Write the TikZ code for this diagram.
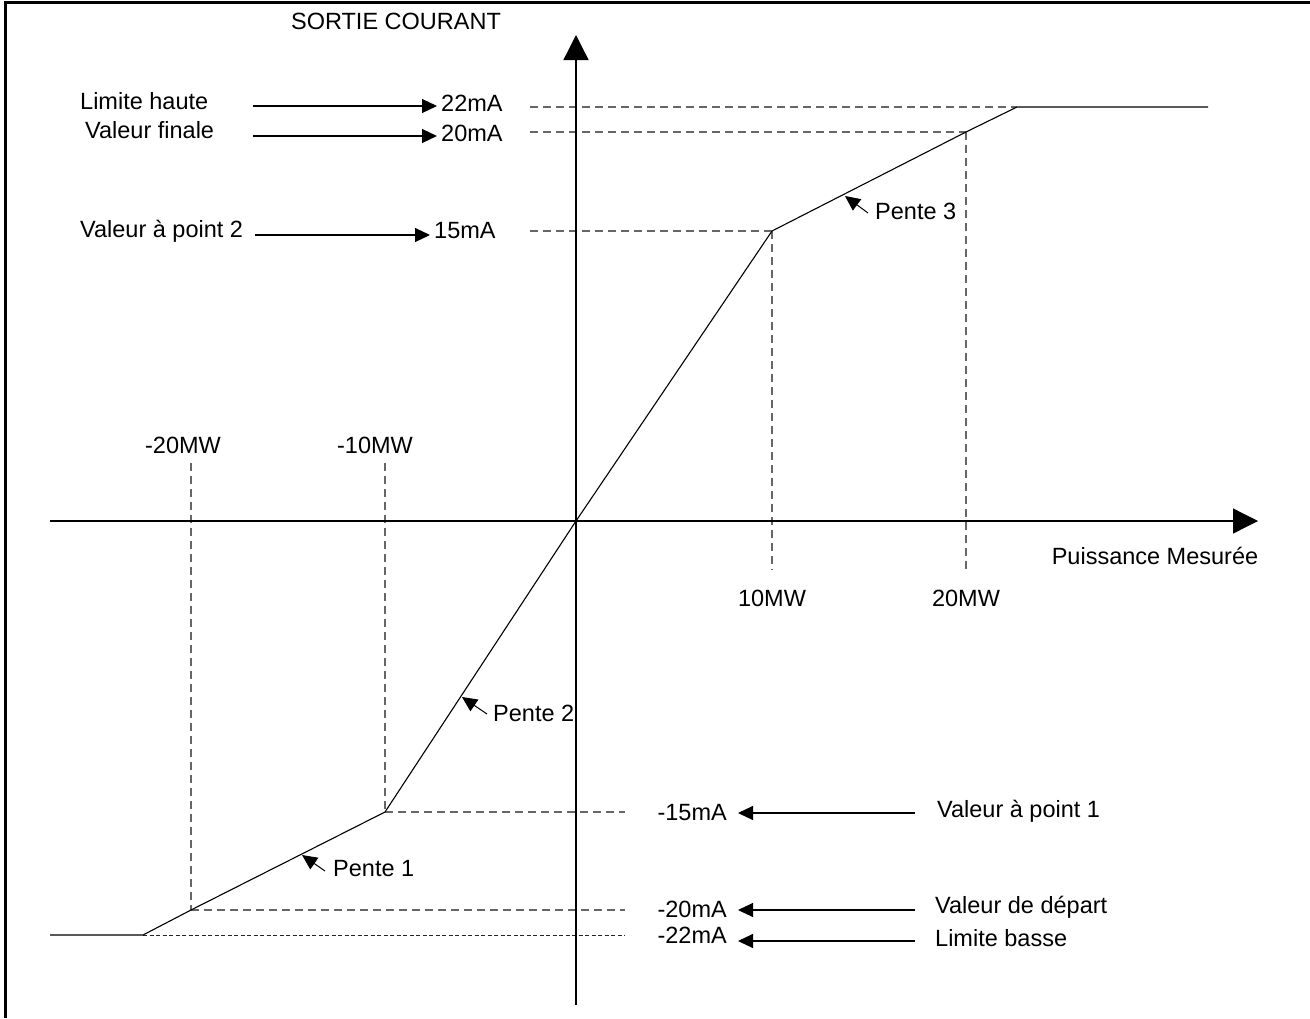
\documentclass[tikz,border=0pt]{standalone}
\usepackage{fontspec}
\setmainfont{Liberation Sans}
\usetikzlibrary{arrows.meta}
\begin{document}
\begin{tikzpicture}[x=1pt,y=-1pt,
  lbl/.style={inner sep=0pt, font=\fontsize{23.5}{28}\selectfont},
  guide/.style={draw=black!60, line width=1.2pt, dash pattern=on 8pt off 5pt},
  fineguide/.style={draw=black!85, line width=1pt, dash pattern=on 4pt off 2.5pt},
  curveln/.style={draw=black, line width=1.1pt},
  axisln/.style={line width=1.3pt, -{Triangle[length=25pt,width=25pt]}},
  callout/.style={draw=black, line width=1.1pt, -{Triangle[length=15pt,width=14pt]}},
  pentearr/.style={draw=black, line width=1pt, -{Triangle[length=15pt,width=14pt]}}
]
\useasboundingbox (0,0) rectangle (1310,1018);
% frame
\draw[line width=3pt] (5,1018) -- (5,2) -- (1310,2);

% key points
\coordinate (O) at (576,521);
\coordinate (ybot) at (576,1005);
\coordinate (ytop) at (576,35);
\coordinate (xleft) at (50,521);
\coordinate (xright) at (1258,521);
\coordinate (c0) at (50,935);
\coordinate (c1) at (143,935);
\coordinate (c2) at (191,910);
\coordinate (c3) at (385,812);
\coordinate (c4) at (772,231);
\coordinate (c5) at (966,132);
\coordinate (c6) at (1017,107);
\coordinate (c7) at (1208,107);

% guides
\coordinate (g22) at (530,107);
\coordinate (g20) at (530,132);
\coordinate (g15) at (530,231);
\coordinate (gm15) at (625,812);
\coordinate (gm20) at (625,910);
\coordinate (gm22) at (625,935);
\coordinate (v10) at (772,570);
\coordinate (v20) at (966,570);
\coordinate (vm10) at (385,463);
\coordinate (vm20) at (191,463);
\draw[guide] (g22) -- (c6);
\draw[guide] (g20) -- (c5);
\draw[guide] (g15) -- (c4);
\draw[guide] (c4) -- (v10);
\draw[guide] (c5) -- (v20);
\draw[guide] (vm10) -- (c3);
\draw[guide] (vm20) -- (c2);
\draw[guide] (c3) -- (gm15);
\draw[guide] (c2) -- (gm20);
\draw[fineguide] (c1) -- (gm22);

% axes
\draw[axisln, draw=black!70, color=black] (ybot) -- (ytop);
\draw[axisln] (xleft) -- (xright);

% characteristic
\draw[curveln] (c0) -- (c1) -- (c2) -- (c3) -- (O) -- (c4) -- (c5) -- (c6) -- (c7);

% labels
\node[lbl] (title) at (396,21) {SORTIE COURANT};
\node[lbl] (xlab) at (1155,556) {Puissance Mesurée};
\node[lbl, anchor=west] (lh) at (80,101) {Limite haute};
\node[lbl, anchor=west] (vf) at (85,130) {Valeur finale};
\node[lbl, anchor=west] (vp2) at (80,231) {Valeur à point 2};
\node[lbl, anchor=west] (t22) at (441,103) {22mA};
\node[lbl, anchor=west] (t20) at (441,133) {20mA};
\node[lbl, anchor=west] (t15) at (434,231) {15mA};
\node[lbl] (mw20n) at (183,445) {-20MW};
\node[lbl] (mw10n) at (375,445) {-10MW};
\node[lbl] (mw10) at (772,598) {10MW};
\node[lbl] (mw20) at (966,598) {20MW};
\node[lbl, anchor=east] (tm15) at (727,813) {-15mA};
\node[lbl, anchor=east] (tm20) at (727,909) {-20mA};
\node[lbl, anchor=east] (tm22) at (727,935) {-22mA};
\node[lbl, anchor=west] (vp1) at (937,811) {Valeur à point 1};
\node[lbl, anchor=west] (vd) at (935,907) {Valeur de départ};
\node[lbl, anchor=west] (lb) at (935,938) {Limite basse};
\node[lbl, anchor=west] (p3) at (875,211) {Pente 3};
\node[lbl, anchor=west] (p2) at (493,713) {Pente 2};
\node[lbl, anchor=west] (p1) at (333,869) {Pente 1};

% callout arrows
\coordinate (a1s) at (253,106);  \coordinate (a1e) at (437,106);
\coordinate (a2s) at (253,136);  \coordinate (a2e) at (437,136);
\coordinate (a3s) at (255,235);  \coordinate (a3e) at (430,235);
\coordinate (b1s) at (915,813);  \coordinate (b1e) at (738,813);
\coordinate (b2s) at (915,910);  \coordinate (b2e) at (738,910);
\coordinate (b3s) at (915,941);  \coordinate (b3e) at (738,941);
\draw[callout] (a1s) -- (a1e);
\draw[callout] (a2s) -- (a2e);
\draw[callout] (a3s) -- (a3e);
\draw[callout] (b1s) -- (b1e);
\draw[callout] (b2s) -- (b2e);
\draw[callout] (b3s) -- (b3e);

% slope pointers
\coordinate (p3t) at (868,213); \coordinate (p3h) at (845,196);
\coordinate (p2t) at (487,714); \coordinate (p2h) at (462,697);
\coordinate (p1t) at (325,871); \coordinate (p1h) at (302,855);
\draw[pentearr] (p3t) -- (p3h);
\draw[pentearr] (p2t) -- (p2h);
\draw[pentearr] (p1t) -- (p1h);
\end{tikzpicture}
\end{document}
